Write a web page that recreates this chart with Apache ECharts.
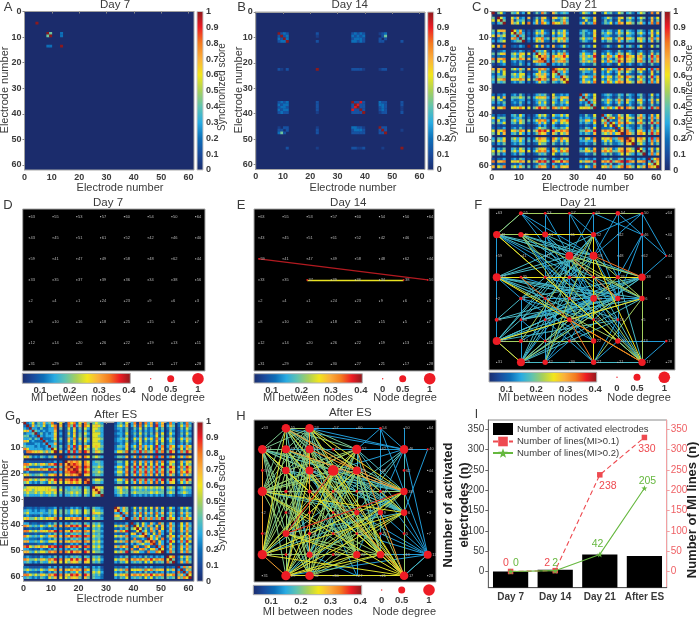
<!DOCTYPE html>
<html><head><meta charset="utf-8"><style>html,body{margin:0;padding:0;background:#fff}#c{width:700px;height:618px}</style>
<script src="https://cdn.jsdelivr.net/npm/echarts@6/dist/echarts.min.js"></script></head>
<body><div id="c"></div>
<script>
// ---------- colour scale ----------
const scaleStops = ['#1b2c6c','#1a4a9c','#0d6fb8','#29abe2','#5fc3b0','#a8d05a','#f2e61c','#fbb03b','#f47b20','#ed1c24','#8b1a1e'];
// score read for each digit class in the matrices below; x = 1
const digitScores = [0,.06,.12,.2,.3,.42,.58,.68,.8,.92];
// ---------- synchronisation matrices (upper triangle, grouped by active electrode blocks) ----------
const groupsA = [[5],[9,10],[14]];
const rowsA = ["x 00 0","x5 3","x 3","x"];
const groupsB = [[9,10,11,12],[23],[36,37,38,39,40],[46,47,48],[54]];
const rowsB = ["x232 2 23232 123 0","x23 1 32323 025 0","x3 0 23332 202 0","x 2 33232 220 2",
 "x 22221 122 1","x2292 322 2","x922 332 2","x22 232 1","x2 232 1","x 122 2","x22 0","x2 1","x 0","x"];
const groupsC = [[1],[3,4,5],[8,9,10,11,12],[14],[16,17,18,19,20,21],[23,24],[25,26,27,28],[33,34,35,36,37,38],[41,42,43,44,45,46,47,48],[50,51,52],[54,55,56],[58,59,60,61]];
const rowsC = [
"x 563 54624 6 253852 75 3454 365426 36452365 453 465 2827",
"x64 64734 7 253762 76 4565 365437 34652376 564 465 3736","x5 72545 3 362743 53 3574 236326 25341263 453 352 2725","x 75636 8 473864 86 6585 473548 35462487 675 574 4838",
"x6473 2 254632 52 5463 354326 43542364 543 453 3625","x584 3 365743 63 6574 453437 54652475 654 564 4736","x45 2 243522 42 4463 253326 34432253 443 342 2624","x5 4 476845 75 6685 564548 65763586 765 675 5847","x 3 365733 53 6574 354326 43552374 544 564 4725",
"x 263724 72 3463 253426 23531264 453 462 2625",
"x45462 42 4352 243225 23431253 342 342 2523","x6574 53 6584 464437 43642475 653 563 3735","x785 86 7796 575659 65874698 876 785 5958","x84 74 5674 465447 53742586 765 674 4847","x4 85 7785 575658 64864597 765 785 5957","x 43 4353 243325 32431263 342 342 2523",
"x8 6685 675658 64864597 875 786 4948","x 5474 354437 43642475 653 563 3725",
"x453 342335 43431362 432 342 2623","x75 476548 64763586 875 685 5947","x6 364436 43653475 643 564 3736","x 475648 64864687 765 785 4847",
"x47436 34542354 543 452 3624","x5326 23431253 342 352 2513","x457 54753585 754 674 4736","x46 34642474 643 563 3725","x5 23431253 342 352 2523","x 65864697 875 785 4958",
"x4652375 643 574 3736","x586386 765 785 4847","x42375 643 563 3725","x6487 865 785 5958","x264 433 352 2514","x36 543 453 2725","x7 854 674 4846","x 875 786 5958",
"x87 786 4948","x6 675 4847","x 564 3735","x64 4736","x5 3725","x 4847","x468","x57","x6","x"];
const groupsG = [[1],[2,3,4,5,6,7,8,9,10,11,12],[14],[16,17,18,19,20,21],[23,24],[26,27,28,29],[34,35,36,37,38],[40,41,42,43,44,45,46,47,48,49,50,51],[53,54,55],[57,58,59,60,61]];
const rowsG = [
"x 34635474582 6 286836 85 5654 24536 481828472847 384 35384",
"x3745463468 7 385947 86 6765 35647 472836472947 475 36485","x443533448 5 263725 64 6654 34435 253625342635 354 25364","x54343447 3 253624 53 6554 23425 342524342524 253 24353","x3534346 4 263725 64 6664 34436 353635352736 364 25364","x434447 3 253625 53 6654 23425 242524243625 253 24253","x33346 5 274836 75 6665 34546 364736463846 475 36475","x4335 4 263725 64 6654 34435 253625353736 364 25364","x447 3 253624 53 6664 23436 342634342625 354 24253","x45 5 384937 86 6765 35547 463847463948 486 47486","x6 4 273826 65 5654 34436 352736362837 375 26375","x 7 495948 97 5765 46658 584958574958 597 48597",
"x 385847 86 5654 35547 473847473948 486 47486",
"x78786 86 4554 35536 483748472848 476 37476","x8987 87 4454 24436 372637362736 365 26365","x898 98 5565 46648 594959584959 597 48597","x97 86 4554 35537 483748473847 476 37486","x8 98 5565 46648 594859584958 597 48697","x 76 4554 35537 473748472737 475 37475",
"x8 5665 46648 594859584959 597 48597","x 4554 35536 473748472837 476 36475",
"x766 56756 565656565656 565 45655","x75 45645 454545454545 454 34544","x5 45655 565555565655 565 45654","x 34534 343434343434 343 23433",
"x7475 363736362736 364 36464","x465 252525252525 253 25353","x47 374837473847 475 37475","x4 253625352635 364 25364","x 485948584859 586 48586",
"x35264374285 374 26374","x6374852637 485 36485","x625374826 374 26374","x46385274 485 37485","x7426384 263 25263","x364852 586 48586","x74638 374 26374","x8264 496 48496","x374 263 25263","x48 485 37485","x6 374 36374","x 485 37485",
"x68 36475","x5 25364","x 37485","x4857","x375","x48","x6","x"];
// ---------- electrode map ----------
const nodeNames = [63,55,53,57,60,54,50,64, 43,45,51,61,52,42,46,40, 59,41,47,49,58,48,62,44, 33,35,37,39,36,34,38,56, 2,4,1,24,23,9,6,3, 8,10,16,18,25,15,5,7, 12,14,20,26,22,19,13,11, 31,29,32,30,27,21,17,28];
const degE = {16:.02,31:.02,26:.02,30:.02};
const degF = [0,.2,.1,.1,.1,.25,.1,0, .45,.3,.35,0,.3,0,.1,0, 0,0,0,.5,.5,0,0,.05, .5,.1,.1,.15,.1,.2,.45,0, 0,.15,.1,.1,.4,.3,.3,0, .2,.1,.1,.25,.1,.1,0,0, .5,.2,.1,.1,.3,.3,0,.08, 0,.5,.3,0,.3,0,.45,0];
const degH = [0,.55,.55,0,0,.1,0,0, .55,.5,.5,.1,.6,0,.55,.05, .1,.45,.5,.7,.5,0,.1,0, .6,.15,.2,.1,.1,.1,.45,0, 0,.1,.1,.1,.3,.3,.4,0, .1,.4,.15,.1,.1,.1,.1,0, .6,.1,.35,.1,.45,.45,0,.5, 0,.6,.55,0,0,0,.55,0];
// ---------- MI links: [mi, flat node-index pairs] ----------
const linksE = [[.39,[16,31]],[.255,[26,30]]];
const linksF = [
[.14,[1,2,2,3,3,4,4,5,5,6,8,24,24,40,40,48,48,57,6,14,14,30,5,29,29,53,6,23,14,23,30,23,62,55,53,55,38,62,1,8,2,10,3,12,4,14,5,14,6,12,2,19,3,19,4,19,3,20,4,20,5,20,6,20,1,19,1,20,1,27,8,36,8,37,9,35,9,44,10,26,10,36,10,27,12,29,12,36,12,37,14,29,14,37,19,27,19,28,19,36,19,44,19,37,19,35,20,28,20,36,20,27,20,44,20,37,24,33,24,34,25,36,26,37,27,36,28,37,28,36,33,44,34,36,35,36,36,37,36,38,36,44,37,44,41,36,42,36,43,36,44,36,45,36,48,36,49,36,50,36,51,36,52,36,57,36,58,36,60,36,62,36,33,52,33,57,34,50,34,58,35,57,41,49,41,50,42,51,43,52,44,52,44,60,45,53,45,60,49,57,50,57,51,58,51,60,52,60,53,60,53,62]],
[.17,[8,19,8,20,8,30,8,38,9,20,9,30,9,37,10,20,10,37,12,24,12,48,12,57,12,41,19,24,19,40,19,48,19,57,19,58,20,24,20,33,20,48,20,57,20,58,24,29,24,36,24,37,24,44,24,45,30,48,30,57,30,40,30,41,30,50,30,33,38,48,38,41,38,57,38,24,37,48,37,57,37,40,37,41,45,57,45,48,36,48,25,60,26,62,27,62,28,62,29,62,57,58,58,60,60,62]],
[.22,[9,38,9,62,9,52,12,58,12,49,19,30,19,38,19,62,20,38,24,53,57,29,57,37,48,52,8,62,1,8,8,9,30,62,38,60,1,6]],
[.26,[48,38,24,30,24,62,9,10,10,12,12,60,20,62,48,57,8,53]],
[.335,[20,30,43,60,19,37,43,62,25,43]]];
const linksH = [
[.14,[5,12,5,14,5,2,5,1,14,15,14,6,14,2,14,1,14,8,14,30,14,38,14,62,14,55,14,24,14,52,5,53,5,30,15,38,55,38,55,30,55,29,55,37,55,36,55,44,55,45,55,62,55,53,55,52,55,57,60,18,60,20,60,52,60,50,60,57,8,40,41,48,48,50,2,4,1,5]],
[.175,[8,19,8,30,8,38,9,30,9,38,10,38,12,30,12,38,17,30,17,38,18,30,18,38,19,30,19,38,20,30,20,38,24,36,24,37,36,48,36,57,37,48,37,57,41,38,50,12,50,20,52,12,52,20,53,12,53,20,48,14,57,14,58,14,62,14,62,55,1,57,1,50,2,57,2,58,9,50,10,58,36,12,36,19,37,19,44,9,44,17,43,2,44,62,43,30,35,62,35,8]],
[.2,[1,8,1,9,1,10,1,12,1,17,1,18,1,19,1,20,1,24,1,30,1,38,1,41,1,52,1,53,2,8,2,9,2,10,2,12,2,17,2,18,2,19,2,20,2,24,2,41,2,48,2,52,2,53,8,9,8,17,8,18,8,20,8,41,8,50,8,52,8,57,8,58]],
[.215,[9,17,9,19,9,24,9,41,9,48,9,52,9,53,9,57,9,58,10,19,10,24,10,41,10,48,10,52,10,53,10,57,10,62,12,17,12,18,12,19,12,24,12,41,12,57,12,58,17,24,17,41,17,48,17,52,17,53,17,57,17,58,18,24,18,41,18,48,18,52,18,53,18,58,19,24,19,48,19,50,19,52,19,53,19,58,20,24,20,41,20,52,20,53,20,57,20,58,20,62,24,30,24,52,24,53,24,58,30,50,30,58,30,62,38,50,38,58,38,62,41,52,41,53,41,58,48,52,48,53,52,58,53,58,58,62,1,2]],
[.25,[2,30,2,38,8,53,9,62,12,48,17,62,18,57,19,57,19,62,20,48,24,38,24,62,30,48,30,57,38,57,38,48,41,62,48,62,52,57,53,57,57,62,1,62,1,48,2,62,8,62]],
[.305,[8,24,24,48,48,57,2,50,1,20,10,30,12,62,9,30,18,62]],
[.36,[19,41,30,41]]];
// ---------- panel I ----------
const dayLabels = ['Day 7','Day 14','Day 21','After ES'];
const activated = [0,4,42,38];
const linesMI01 = [0,2,238,330];
const linesMI02 = [0,2,42,205];
const offsetsMI01 = [[-4.6,-8],[-8,-8],[8,11.7],[2.5,12]];
const offsetsMI02 = [[5.4,-8],[0,-8],[-2.3,-10],[3,-7.6]];
const miTicks = [.1,.2,.3,.4];
const syncTicks = [0,.1,.2,.3,.4,.5,.6,.7,.8,.9,1];
const electrodeTicks = [0,10,20,30,40,50,60];
const countTicks = [0,50,100,150,200,250,300,350];

// ---------- helpers ----------
const FONT = '"Liberation Sans", Arial, sans-serif';
const TXT = '#3a3a3a';
function colorOf(t){
  t = Math.max(0,Math.min(1,t)); const p = t*(scaleStops.length-1), i = Math.min(scaleStops.length-2,Math.floor(p)), f = p-i;
  const a = echarts.color.parse(scaleStops[i]), b = echarts.color.parse(scaleStops[i+1]);
  return `rgb(${a[0]+(b[0]-a[0])*f|0},${a[1]+(b[1]-a[1])*f|0},${a[2]+(b[2]-a[2])*f|0})`;
}
const miColor = m => colorOf((m-.04)/.365);
function cells(groups, rows){
  const active = groups.flat(), out = [];
  rows.forEach((row,k)=>{
    const parts = row.split(' '), self = active[k];
    parts.forEach((part,p)=>{
      const g = groups[groups.length-parts.length+p];
      [...part].forEach((ch,j)=>{
        const e = g[g.length-part.length+j], v = ch==='x'?1:digitScores[+ch];
        if(v>0){ out.push([e,self,v]); if(e!==self) out.push([self,e,v]); }
      });
    });
  });
  return out;
}
const option = {animation:false,backgroundColor:'#fff',textStyle:{fontFamily:FONT},grid:[],xAxis:[],yAxis:[],series:[],graphic:[]};
function addGrid(r,extra){ option.grid.push(Object.assign({left:r[0],top:r[1],width:r[2]-r[0],height:r[3]-r[1],show:true,borderColor:'#a8a8a8',borderWidth:1,containLabel:false},extra)); return option.grid.length-1; }
function addAxes(gi,x,y){ option.xAxis.push(Object.assign({gridIndex:gi,type:'value',show:false},x)); option.yAxis.push(Object.assign({gridIndex:gi,type:'value',show:false},y)); return [option.xAxis.length-1,option.yAxis.length-1]; }
const tickLbl = {color:TXT,fontSize:9,fontWeight:'bold',fontFamily:FONT};
function text(s,x,y,o={}){ option.graphic.push({type:'text',x,y,rotation:o.rot?Math.PI/2:0,silent:true,style:{text:s,fill:o.color||TXT,font:`${o.weight||'normal'} ${o.size||11}px ${FONT}`,textAlign:'center',textVerticalAlign:'middle'}}); }
function gradient(horizontal){ return horizontal?new echarts.graphic.LinearGradient(0,0,1,0,scaleStops.map((c,i)=>({offset:i/10,color:c}))):new echarts.graphic.LinearGradient(0,1,0,0,scaleStops.map((c,i)=>({offset:i/10,color:c}))); }

function heatPanel(p){
  const gi = addGrid(p.rect,{backgroundColor:scaleStops[0]});
  const ax = {show:true,min:0,max:62,splitLine:{show:false},axisLine:{lineStyle:{color:'#a0a0a0'}},axisTick:{length:2,lineStyle:{color:'#888'},customValues:electrodeTicks},axisLabel:Object.assign({},tickLbl,{margin:3,customValues:electrodeTicks})};
  const [xi,yi] = addAxes(gi,Object.assign({position:'bottom'},ax),Object.assign({position:'left',inverse:true},ax));
  option.series.push({type:'custom',name:p.title,coordinateSystem:'cartesian2d',xAxisIndex:xi,yAxisIndex:yi,data:cells(p.groups,p.rows),clip:true,silent:true,
    renderItem:(params,api)=>{const a=api.coord([api.value(0)-1,api.value(1)-1]),b=api.coord([api.value(0),api.value(1)]);
      return {type:'rect',shape:{x:Math.min(a[0],b[0]),y:Math.min(a[1],b[1]),width:Math.abs(a[0]-b[0])+.3,height:Math.abs(a[1]-b[1])+.3},style:{fill:colorOf(api.value(2))}};}});
  const cb = addGrid(p.bar,{backgroundColor:gradient(false),borderColor:'#c8c8c8'});
  addAxes(cb,{min:0,max:1},{show:true,position:'right',min:0,max:1,axisLine:{show:false},axisTick:{show:false},splitLine:{show:false},axisLabel:Object.assign({},tickLbl,{margin:3,customValues:syncTicks,formatter:v=>String(+(+v).toFixed(1))})});
  text(p.title,p.tx,p.ty,{size:11.5});
  text(p.letter,p.lx,p.ly,{size:13});
  text('Electrode number',p.xnx,p.xny);
  text('Electrode number',p.ynx,p.yny,{rot:1});
  text('Synchronized score',p.snx,p.sny,{rot:1,size:p.ssize||11});
}
function netPanel(p){
  const gi = addGrid(p.rect,{backgroundColor:'#000'});
  const sx = (p.cols[1]-p.cols[0])/7, sy = (p.rows[1]-p.rows[0])/7;
  const [xi,yi] = addAxes(gi,{min:-(p.cols[0]-p.rect[0])/sx,max:7+(p.rect[2]-p.cols[1])/sx},{inverse:true,min:-(p.rows[0]-p.rect[1])/sy,max:7+(p.rect[3]-p.rows[1])/sy});
  const nodes = nodeNames.map((n,i)=>{
    const d = p.deg ? (p.deg[i]||0) : 0;
    return {name:String(n),value:[i%8,Math.floor(i/8)],symbolSize:d>0?1.5+13*d:1.3,itemStyle:{color:d>0?'#ee1c25':'#cccccc',opacity:1}};
  });
  const links = [];
  p.links.forEach(([mi,pairs])=>{ for(let i=0;i<pairs.length;i+=2) links.push({source:pairs[i],target:pairs[i+1],lineStyle:{color:miColor(mi),width:p.lw||1,opacity:1,curveness:0}}); });
  option.series.push({type:'graph',name:p.title,coordinateSystem:'cartesian2d',xAxisIndex:xi,yAxisIndex:yi,layout:'none',roam:false,silent:true,symbol:'circle',data:nodes,links,edgeSymbol:['none','none'],
    label:{show:true,position:'right',distance:.5,fontSize:4,color:'#b8b8b8',fontFamily:FONT},labelLayout:{hideOverlap:false}});
  const cb = addGrid(p.bar,{backgroundColor:gradient(true),borderColor:'#b0b0b0'});
  addAxes(cb,{show:true,min:.04,max:.405,position:'bottom',axisLine:{show:false},axisTick:{show:false},splitLine:{show:false},axisLabel:Object.assign({},tickLbl,{fontSize:9.5,margin:p.lblGap,customValues:miTicks,formatter:v=>String(+(+v).toFixed(1))})},{min:0,max:1});
  p.circ.forEach((cx,i)=>{
    option.graphic.push({type:'circle',silent:true,shape:{cx,cy:p.cy,r:[.7,3.5,5.8][i]},style:{fill:'#ee1c25'}});
    text(['0','0.5','1'][i],cx,p.ly2,{size:9.5,weight:'bold'});
  });
  text('MI between nodes',p.nmx,p.nmy);
  text('Node degree',p.ndx,p.nmy);
  text(p.title,p.tx,p.ty,{size:11.5});
  text(p.letter,p.lx,p.ly,{size:13});
}

// ---------- panels A B C G ----------
heatPanel({title:'Day 7',letter:'A',groups:groupsA,rows:rowsA,rect:[24.5,11.5,194,170],bar:[197,11.5,203,170],tx:115,ty:5,lx:8,ly:7,xnx:120,xny:187.5,ynx:4.8,yny:90,snx:222,sny:87,ssize:10});
heatPanel({title:'Day 14',letter:'B',groups:groupsB,rows:rowsB,rect:[255.7,12,425,169.5],bar:[427.7,12,433.7,170],tx:349.7,ty:5,lx:241.7,ly:7,xnx:353,xny:187.5,ynx:239,yny:90,snx:453,sny:94});
heatPanel({title:'Day 21',letter:'C',groups:groupsC,rows:rowsC,rect:[491.7,11.5,661.7,170.5],bar:[664.3,11.5,670.3,170.5],tx:579,ty:5,lx:476.7,ly:7,xnx:585.7,xny:187.5,ynx:471,yny:90,snx:689,sny:93});
heatPanel({title:'After ES',letter:'G',groups:groupsG,rows:rowsG,rect:[23.5,422,194,581.3],bar:[197,422,203,581.3],tx:115.7,ty:414.7,lx:10,ly:416,xnx:120,xny:599,ynx:4.8,yny:503,snx:222,sny:503});

// ---------- panels D E F H ----------
netPanel({title:'Day 7',letter:'D',links:[],rect:[22.7,209,205,371],cols:[29.3,195.7],rows:[216.7,364.3],bar:[22.3,373.3,130.3,383.3],lblGap:2,circ:[150.7,170.7,198],cy:378.7,ly2:389,nmx:76,nmy:398,ndx:173,tx:108,ty:203,lx:8,ly:205});
netPanel({title:'Day 14',letter:'E',links:linksE,deg:degE,lw:1.3,rect:[254,209,434.3,371],cols:[259,427.7],rows:[216.7,364.3],bar:[254,373.7,362.3,383],lblGap:2,circ:[382.7,402.7,429.7],cy:378.7,ly2:389,nmx:308,nmy:398,ndx:405,tx:348.3,ty:203,lx:241,ly:205});
netPanel({title:'Day 21',letter:'F',links:linksF,deg:degF,rect:[489,208.3,675,370],cols:[496.7,666.3],rows:[213.3,362.3],bar:[489,372.3,596.7,382],lblGap:2,circ:[617,637,664.3],cy:377.3,ly2:388,nmx:543,nmy:397.5,ndx:639,tx:578.3,ty:203,lx:478.3,ly:205});
netPanel({title:'After ES',letter:'H',links:linksH,deg:degH,rect:[254,420,436,582],cols:[262.3,427.7],rows:[428.3,575.7],bar:[253.3,585.3,361.7,594.7],lblGap:2,circ:[381.7,401.7,429],cy:590,ly2:600.7,nmx:307.7,nmy:612,ndx:404.3,tx:350.3,ty:413.3,lx:241,ly:416});

// ---------- panel I ----------
const gI = addGrid([488.3,420,666.7,587.7],{borderColor:'#8a8a8a'});
option.xAxis.push({gridIndex:gI,type:'category',data:dayLabels,axisLine:{onZero:false,lineStyle:{color:'#555'}},axisTick:{show:false},axisLabel:{color:TXT,fontSize:10,fontWeight:'bold',fontFamily:FONT,margin:5,interval:0}});
const xI = option.xAxis.length-1;
const countAxis = (pos,col,lineCol)=>({gridIndex:gI,type:'value',position:pos,min:-40,max:373,splitLine:{show:false},axisLine:{show:true,onZero:false,lineStyle:{color:lineCol}},axisTick:{show:true,length:3,lineStyle:{color:lineCol},customValues:countTicks},axisLabel:{color:col,fontSize:10,fontFamily:FONT,margin:4,customValues:countTicks}});
option.yAxis.push(countAxis('left',TXT,'#666'));
const yL = option.yAxis.length-1;
option.yAxis.push(countAxis('right','#ee5f63','#f3a0a2'));
const yR = option.yAxis.length-1;
const nameBar='Number of activated electrodes', nameRed='Number of lines(MI>0.1)', nameGreen='Number of lines(MI>0.2)';
option.series.push({type:'custom',name:nameBar,coordinateSystem:'cartesian2d',xAxisIndex:xI,yAxisIndex:yL,data:activated.map((v,i)=>[i,v]),encode:{x:0,y:1},itemStyle:{color:'#000'},silent:true,z:2,clip:true,
  renderItem:(params,api)=>{const top=api.coord([api.value(0),api.value(1)]), w=api.size([1,0])[0]*.79, cs=params.coordSys;
    return {type:'rect',shape:{x:top[0]-w/2,y:top[1],width:w,height:cs.y+cs.height-top[1]},style:{fill:'#000'}};}});
const labeled = (vals,offs)=>vals.map((v,i)=>({value:v,label:{offset:offs[i]}}));
option.series.push({type:'line',name:nameRed,xAxisIndex:xI,yAxisIndex:yR,data:labeled(linesMI01,offsetsMI01),symbol:'rect',symbolSize:5.5,lineStyle:{color:'#ee4a50',width:1.1,type:[5,3]},itemStyle:{color:'#ee4a50'},silent:true,z:3,
  label:{show:true,position:'inside',color:'#ee4a50',fontSize:10.5,fontFamily:FONT}});
option.series.push({type:'line',name:nameGreen,xAxisIndex:xI,yAxisIndex:yR,data:labeled(linesMI02,offsetsMI02),symbol:'path://M0,-10 L2.6,-3.1 10,-3.1 4.1,1.3 6.2,8.1 0,4 -6.2,8.1 -4.1,1.3 -10,-3.1 -2.6,-3.1 Z',symbolSize:6,lineStyle:{color:'#66b83f',width:1.1},itemStyle:{color:'#66b83f'},silent:true,z:4,
  label:{show:true,position:'inside',color:'#66b83f',fontSize:10.5,fontFamily:FONT}});
option.legend = {orient:'vertical',left:492,top:423,itemWidth:20,itemHeight:12,itemGap:1.5,padding:0,selectedMode:false,textStyle:{color:TXT,fontSize:9.5,fontFamily:FONT,padding:[0,0,0,-1]},
  data:[{name:nameBar,icon:'rect'},{name:nameRed},{name:nameGreen}]};
text('Number of activated',448,505,{rot:1,size:13,weight:'bold',color:'#222'});
text('electrodes (n)',464,505,{rot:1,size:13,weight:'bold',color:'#222'});
text('Number of MI lines (n)',692,510,{rot:1,size:13,weight:'bold',color:'#222'});
text('I',476.5,415,{size:12});

echarts.init(document.getElementById('c'),null,{renderer:'canvas'}).setOption(option);
</script></body></html>
